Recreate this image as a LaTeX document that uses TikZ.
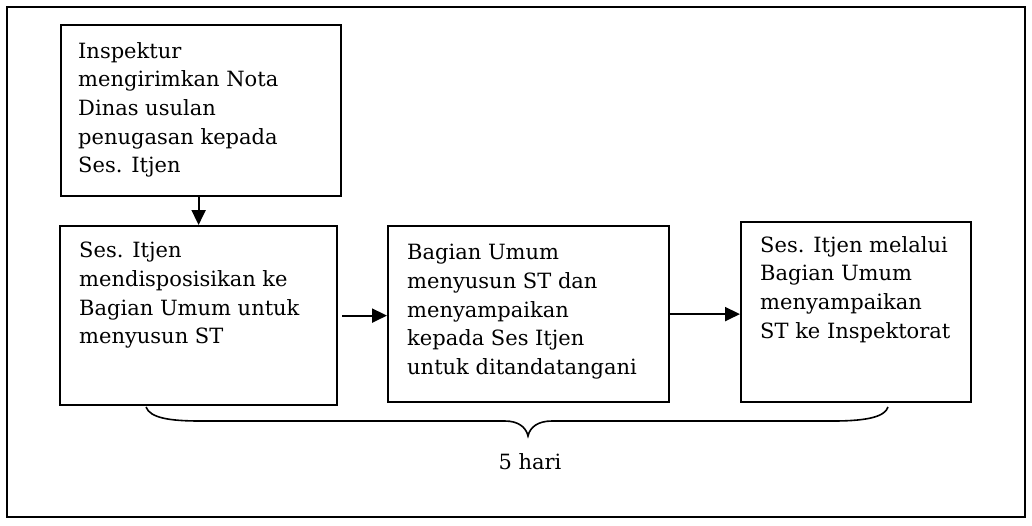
\documentclass[tikz,border=0pt]{standalone}
\usepackage{fontspec}
\setmainfont{DejaVu Serif}
\usetikzlibrary{arrows.meta}
\begin{document}
\begin{tikzpicture}[x=1pt,y=-1pt,
  box/.style={draw, line width=2.2pt, inner sep=0pt, anchor=north west},
  txt/.style={anchor=north west, inner sep=0pt, align=left, font=\fontsize{21}{28.7}\selectfont},
  arr/.style={line width=2pt, -{Triangle[length=15pt,width=14pt]}}]
\useasboundingbox (0,0) rectangle (1032,525);
\draw[line width=2.2pt] (7,7) rectangle (1025,517);
% boxes
\node[box, minimum width=280pt, minimum height=171pt] (b1) at (60,24) {};
\node[box, minimum width=277pt, minimum height=179pt] (b2) at (59,225) {};
\node[box, minimum width=281pt, minimum height=176pt] (b3) at (387,225) {};
\node[box, minimum width=230pt, minimum height=180pt] (b4) at (740,221) {};
% texts
\node[txt] (t1) at ([xshift=18pt,yshift=-18pt]b1.north west) {Inspektur\\mengirimkan Nota\\Dinas usulan\\penugasan kepada\\Ses. Itjen};
\node[txt] (t2) at ([xshift=20pt,yshift=-17pt]b2.north west) {Ses. Itjen\\mendisposisikan ke\\Bagian Umum untuk\\menyusun ST};
\node[txt] (t3) at ([xshift=20pt,yshift=-19pt]b3.north west) {Bagian Umum\\menyusun ST dan\\menyampaikan\\kepada Ses Itjen\\untuk ditandatangani};
\node[txt] (t4) at ([xshift=20pt,yshift=-15pt]b4.north west) {Ses. Itjen melalui\\Bagian Umum\\menyampaikan\\ST ke Inspektorat};
% arrows
\draw[arr] (b1.south -| b2.north) -- (b2.north);
\draw[arr, shorten <=4pt] (b2.east) -- (b3.west |- b2.east);
\draw[arr] (b3.east) -- (b4.west |- b3.east);
% brace
\draw[line width=1.6pt] (146,407) .. controls (150,418) and (170,421) .. (200,421)
  -- (505,421) .. controls (518,421) and (526,427) .. (528,436)
  .. controls (530,427) and (538,421) .. (552,421)
  -- (833,421) .. controls (870,421) and (885,416) .. (888,407);
\node[font=\fontsize{21}{26}\selectfont] (lbl) at (530,462) {5 hari};
\end{tikzpicture}
\end{document}
